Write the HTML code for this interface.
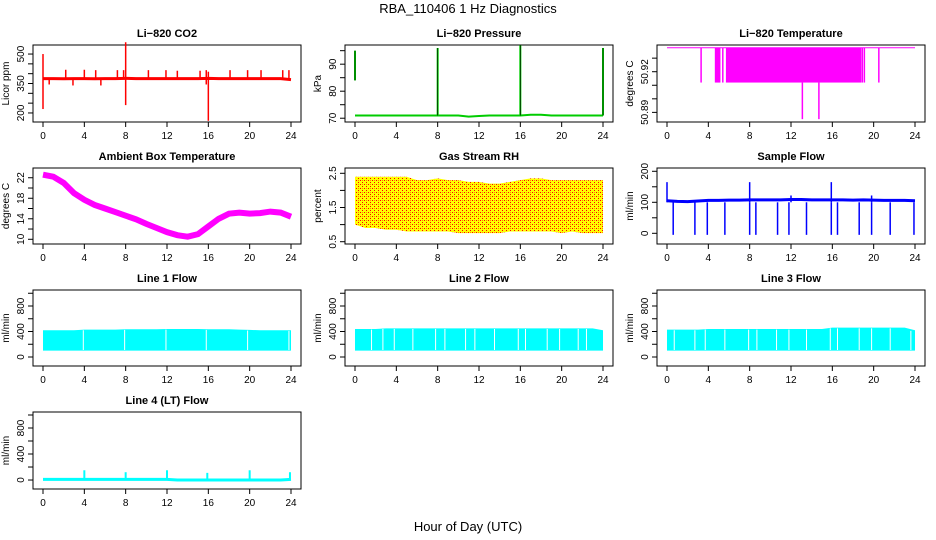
<!DOCTYPE html>
<html><head><meta charset="utf-8"><style>
body{margin:0;background:#fff}
svg{display:block;font-family:"Liberation Sans",sans-serif}
.t{font-weight:bold;font-size:11px;text-anchor:middle}
.tk{font-size:10px}
</style></head><body>
<svg id="c" width="936" height="540" viewBox="0 0 936 540">
<text x="468" y="13" font-size="13" text-anchor="middle">RBA_110406  1 Hz Diagnostics</text>
<text x="468" y="531" font-size="13" text-anchor="middle">Hour of Day (UTC)</text>
</svg>
<script>
const hours=[0,1,2,3,4,5,6,7,8,9,10,11,12,13,14,15,16,17,18,19,20,21,22,23,24];
const xTicks=[0,4,8,12,16,20,24];
// CO2
const co2Base=[375,375,374,375,375,374,375,375,376,375,375,375,375,375,375,375,376,375,375,375,375,375,375,375,370];
const co2Spikes=[[0,220,500],[2.2,375,420],[4,375,420],[5.1,375,418],[7.2,375,418],[7.8,375,418],[8,240,560],[10.2,375,418],[11.9,375,418],[13,375,415],[15.2,375,415],[15.8,345,418],[16,160,410],[18.1,375,418],[19.8,375,418],[21.1,375,418],[23.2,375,418],[23.8,375,418],[0.6,345,375],[2.9,340,375],[5.6,340,375]];
// Pressure
const presBase=[71,71,71,71,71,71,71,71,71,71,71,70.6,70.8,71,71,71,71,71.3,71.3,71,71,71,71,71,71];
const presSpikes=[[0,84,95],[8,71,96],[16,71,97],[24,71,96]];
// Li-820 temperature
const tempHigh=50.9377, tempMid=50.912;
const tempDips=[3.3,4.7,4.8,4.9,5.0,5.1,5.4,18.9,19.1,20.5];
const tempFill=[5.7,18.8];
const tempDeep=[[13.1,50.885],[14.7,50.885]];
// Ambient box temperature
const ambient=[22.6,22.2,21,19,17.7,16.7,16,15.3,14.6,13.9,13,12.2,11.4,10.8,10.5,11,12.5,14,15,15.2,15,15.1,15.4,15.2,14.4];
// Gas stream RH
const rhHigh=[2.4,2.4,2.4,2.4,2.4,2.4,2.3,2.3,2.35,2.3,2.3,2.25,2.25,2.2,2.2,2.25,2.3,2.35,2.35,2.3,2.3,2.3,2.3,2.3,2.3];
const rhLow=[1.0,0.9,0.9,0.85,0.85,0.8,0.8,0.8,0.8,0.8,0.75,0.75,0.75,0.75,0.75,0.8,0.8,0.8,0.8,0.8,0.75,0.8,0.75,0.75,0.75];
// Sample flow
const flowBase=[105,103,102,104,106,106,107,107,108,108,108,108,109,109,108,108,108,108,107,108,107,106,106,106,105];
const flowDips=[0.6,2.7,3.9,5.6,8.0,8.6,10.7,11.8,13.5,15.9,16.5,18.6,19.8,21.6,23.9];
const flowUps=[[0,165],[8.0,165],[15.9,165],[12,122],[19.8,122]];
// Line flows
const line1High=[420,420,420,420,430,430,430,430,435,435,435,435,440,440,440,440,435,435,435,430,425,420,420,420,420];
const line1Low=[100,100,100,100,100,100,100,100,100,100,100,100,100,100,100,100,100,100,100,100,100,100,100,100,100];
const line1Gaps=[3.9,7.9,11.9,15.8,19.8,23.8];
const line2High=[440,440,440,450,450,450,450,450,450,450,450,450,450,450,450,450,450,450,450,450,450,450,450,450,420];
const line2Gaps=[1.6,2.7,3.8,5.6,7.8,8.7,10.7,11.6,13.5,15.8,16.5,18.6,19.8,21.6,22.4];
const line3High=[430,430,430,430,440,440,440,440,440,440,440,440,440,440,440,440,460,460,460,460,460,460,460,460,420];
const line3Gaps=[0.7,2.7,3.7,5.6,7.9,8.7,10.6,11.8,13.5,15.8,16.5,18.6,19.8,21.6,23.6];
const line4Base=[10,10,10,10,10,10,10,10,10,10,10,10,10,0,0,0,0,0,0,0,0,0,0,0,10];
const line4Spikes=[[4,150],[8,120],[12,150],[15.9,110],[20,150],[23.9,120]];

const NS='http://www.w3.org/2000/svg';
const svg=document.getElementById('c');
function el(tag,attrs,parent){const e=document.createElementNS(NS,tag);for(const k in attrs)e.setAttribute(k,attrs[k]);(parent||svg).appendChild(e);return e;}
function panel(name,title,ylab,col,row,ylim,yTicks,yLabels){
  const L=[33,345,657][col],R=L+268,T=[45,168,290,412][row],B=[122,244,366,489][row];
  const g=el('g',{});
  
  
  const xs=h=>L+10+h*(248/24);
  const ys=v=>B-(v-ylim[0])/(ylim[1]-ylim[0])*(B-T);
  const tt=el('text',{x:(L+R)/2,y:T-8,class:'t'},g);tt.textContent=title;
  
  
  const box=el('rect',{x:L,y:T,width:R-L,height:B-T,fill:'none',stroke:'#000'},g);
  
  
  const xa=el('g',{},g);
  
  
  el('line',{x1:xs(0),x2:xs(24),y1:B,y2:B,stroke:'#000'},xa);
  xTicks.forEach(t=>{el('line',{x1:xs(t),x2:xs(t),y1:B,y2:B+5,stroke:'#000'},xa);
    const tx=el('text',{x:xs(t),y:B+17,class:'tk','text-anchor':'middle'},xa);tx.textContent=t;});
  const ya=el('g',{},g);
  
  
  el('line',{x1:L,x2:L,y1:ys(yTicks[0]),y2:ys(yTicks[yTicks.length-1]),stroke:'#000'},ya);
  yTicks.forEach(t=>el('line',{x1:L,x2:L-5,y1:ys(t),y2:ys(t),stroke:'#000'},ya));
  yLabels.forEach(t=>{const y=ys(t);const tx=el('text',{x:L-9,y:y,class:'tk','text-anchor':'middle',transform:`rotate(-90 ${L-9} ${y})`},ya);tx.textContent=t;});
  const yl=el('text',{x:L-24,y:(T+B)/2,class:'tk','text-anchor':'middle',transform:`rotate(-90 ${L-24} ${(T+B)/2})`},g);yl.textContent=ylab;
  
  
  const m=el('g',{},g);
  
  
  return {xs,ys,m};
}
function poly(p,vals,color,w){el('polyline',{points:hours.map((h,i)=>p.xs(h)+','+p.ys(vals[i])).join(' '),fill:'none',stroke:color,'stroke-width':w},p.m);}
function vseg(p,h,a,b,color,w){el('line',{x1:p.xs(h),x2:p.xs(h),y1:p.ys(a),y2:p.ys(b),stroke:color,'stroke-width':w||1},p.m);}
function band(p,hi,lo,fill){const pts=hours.map((h,i)=>p.xs(h)+','+p.ys(hi[i])).concat(hours.slice().reverse().map((h,j)=>{const i=hours.length-1-j;return p.xs(h)+','+p.ys(lo[i]);}));el('polygon',{points:pts.join(' '),fill:fill},p.m);}

// CO2
let p=panel('co2','Li\u2212820 CO2','Licor ppm',0,0,[154,546],[200,250,300,350,400,450,500],[200,350,500]);
poly(p,co2Base,'#f00',3);co2Spikes.forEach(s=>vseg(p,s[0],s[1],s[2],'#f00',1.5));
// Pressure
p=panel('pressure','Li\u2212820 Pressure','kPa',1,0,[68.6,97.1],[70,75,80,85,90,95],[70,80,90]);
poly(p,presBase,'#0c0',2);presSpikes.forEach(s=>vseg(p,s[0],s[1],s[2],'#0c0',2));
presSpikes.forEach(s=>vseg(p,s[0],s[1],s[2],'#000',0.6));
// Li-820 temperature
p=panel('li820-temp','Li\u2212820 Temperature','degrees C',2,0,[50.8829,50.9397],[50.89,50.90,50.91,50.92,50.93],[50.89,50.92]);
el('line',{x1:p.xs(0),x2:p.xs(24),y1:p.ys(tempHigh),y2:p.ys(tempHigh),stroke:'#f0f','stroke-width':1},p.m);
el('rect',{x:p.xs(tempFill[0]),y:p.ys(tempHigh),width:p.xs(tempFill[1])-p.xs(tempFill[0]),height:p.ys(tempMid)-p.ys(tempHigh),fill:'#f0f'},p.m);
tempDips.forEach(h=>vseg(p,h,tempHigh,tempMid,'#f0f',1.5));
tempDeep.forEach(d=>vseg(p,d[0],tempMid,d[1],'#f0f',1.5));
// Ambient
p=panel('ambient-temp','Ambient Box Temperature','degrees C',0,1,[9.08,23.9],[10,12,14,16,18,20,22],[10,14,18,22]);
poly(p,ambient,'#f0f',6);
// RH
p=panel('rh','Gas Stream RH','percent',1,1,[0.433,2.655],[0.5,1,1.5,2,2.5],[0.5,1.5,2.5]);
const pat=el('pattern',{id:'chk',width:4,height:4,patternUnits:'userSpaceOnUse'},el('defs',{}));
el('rect',{width:4,height:4,fill:'#ff0'},pat);el('rect',{width:1,height:1,fill:'#f00'},pat);el('rect',{x:2,y:2,width:1,height:1,fill:'#f00'},pat);el('rect',{x:2,y:0,width:1,height:1,fill:'#f80'},pat);
band(p,rhHigh,rhLow,'url(#chk)');
// Sample flow
p=panel('sample-flow','Sample Flow','ml/min',2,1,[-34.5,210.6],[0,50,100,150,200],[0,100,200]);
poly(p,flowBase,'#00f',3);flowDips.forEach(h=>vseg(p,h,100,-5,'#00f',1.5));flowUps.forEach(s=>vseg(p,s[0],100,s[1],'#00f',1.5));
// Line flows
const lows=hours.map(()=>100);
[['line1-flow','Line 1 Flow',0,line1High,line1Gaps],['line2-flow','Line 2 Flow',1,line2High,line2Gaps],['line3-flow','Line 3 Flow',2,line3High,line3Gaps]].forEach(c=>{
  const q=panel(c[0],c[1],'ml/min',c[2],2,[-141,1051],[0,200,400,600,800,1000],[0,400,800]);
  band(q,c[3],c[0]==='line1-flow'?line1Low:lows,'#0ff');
  c[4].forEach(h=>vseg(q,h,110,c[3][Math.round(h)]-10,'#fff',1));
});
p=panel('line4-flow','Line 4 (LT) Flow','ml/min',0,3,[-138,1046],[0,200,400,600,800,1000],[0,400,800]);
poly(p,line4Base,'#0ff',3);line4Spikes.forEach(s=>vseg(p,s[0],0,s[1],'#0ff',2));
</script>
</body></html>
